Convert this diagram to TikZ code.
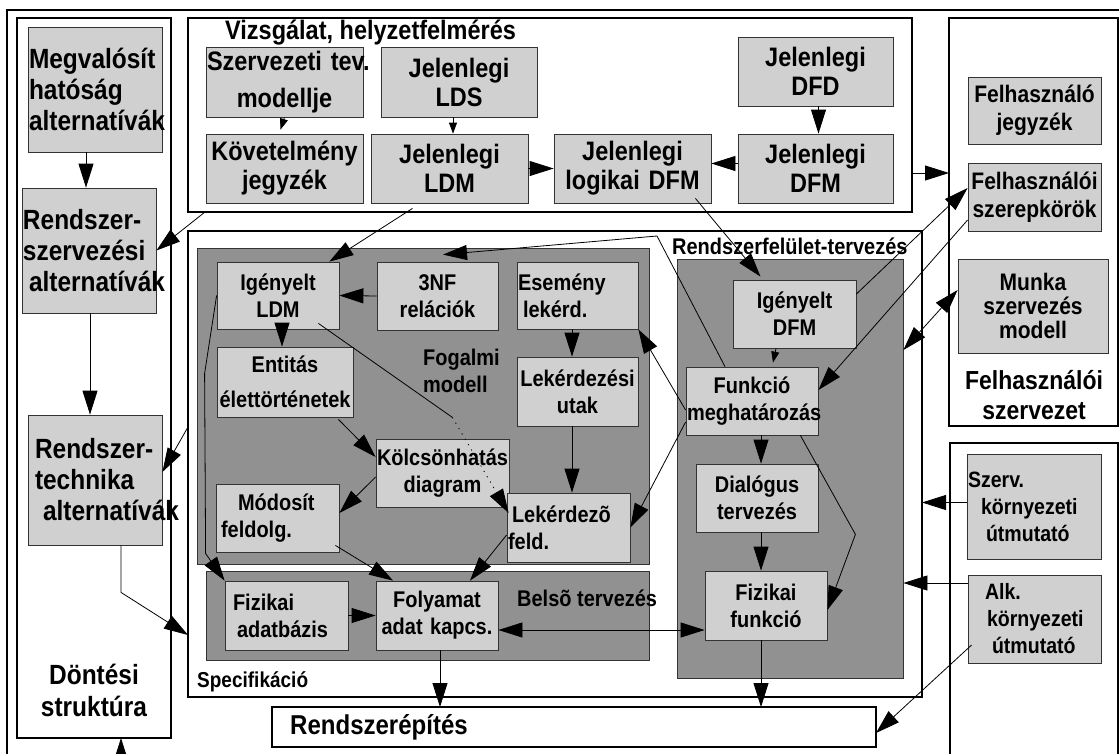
\documentclass[tikz,border=0pt]{standalone}
\usepackage{fontspec}
\setmainfont{Liberation Sans}
\newfontfamily\keskeny[FakeStretch=0.88]{Liberation Sans}
\usetikzlibrary{arrows.meta}
\definecolor{vilagos}{gray}{0.815}
\definecolor{sotetszurke}{gray}{0.57}
\definecolor{szegely}{gray}{0.2}
\hyphenpenalty=10000
\exhyphenpenalty=10000

\begin{document}
\begin{tikzpicture}[x=1pt,y=-1pt,
					keret/.style={draw,line width=2.5pt,inner sep=0pt,outer sep=0pt},
					sotet/.style={draw=szegely,fill=sotetszurke,line width=0.8pt,inner sep=0pt},
					doboz/.style={draw=szegely,fill=vilagos,line width=0.8pt,inner sep=1pt,align=center,kozep},
					meret/.style 2 args={text width=#1,minimum height=#2},
					nagy/.style={font=\keskeny\bfseries\fontsize{26.7}{29}\selectfont},
					bal/.style={font=\keskeny\bfseries\fontsize{27.8}{31}\selectfont},
					kozep/.style={font=\keskeny\bfseries\fontsize{22.7}{27}\selectfont},
					jobb/.style={font=\keskeny\bfseries\fontsize{23.9}{28}\selectfont},
					kornyf/.style={font=\keskeny\bfseries\fontsize{22.2}{27}\selectfont},
					felirat/.style={anchor=west,inner sep=0pt,kozep},
					nyil/.style={line width=0.8pt,-{Triangle[length=24pt,width=15pt]}},
					kisnyil/.style={line width=0.8pt,-{Triangle[length=11pt,width=8pt]}},
					ketnyil/.style={line width=0.8pt,{Triangle[length=24pt,width=15pt]}-{Triangle[length=24pt,width=15pt]}},
					vonal/.style={line width=0.8pt}
					]
					\useasboundingbox (0,0) rectangle (1119,753);
					\draw[line width=2.5pt] (7,775) -- (7,10) -- (1130,10);
					\node[keret,minimum width=154pt,minimum height=720pt] (dontes) at (94,378) {};
					\node[keret,minimum width=724pt,minimum height=194pt] (vizsg) at (550,115) {};
					\node[keret,minimum width=169pt,minimum height=408pt] (felhsz) at (1033.5,222) {};
					\node[keret,minimum width=734pt,minimum height=466pt] (spec) at (555,464) {};
					\node[keret,minimum width=168pt,minimum height=340pt] (korny) at (1034,613) {};
					\node[keret,line width=2pt,minimum width=604pt,minimum height=40pt] (epites) at (574,727) {};
					
					\node[sotet,minimum width=452pt,minimum height=316pt] (fogalmi) at (423,406) {};
					\node[sotet,minimum width=443pt,minimum height=89pt] (belso) at (427.5,615.5) {};
					\node[sotet,minimum width=226pt,minimum height=419pt] (rfelulet) at (790,468.5) {};
					
					\node[doboz,bal,align=left,meret={132pt}{125pt}] (megval) at (95,89.5) {Megvalósít\\hatóság\\alternatívák};
					\node[doboz,bal,align=left,meret={132pt}{125pt}] (rszerv) at (89,250.5) {Rendszer-\\szervezési\\\hspace*{6pt}alternatívák};
					\node[doboz,bal,align=left,meret={132pt}{130pt}] (rtech) at (95,480) {\hspace*{6pt}Rendszer-\\\hspace*{6pt}technika\\\hspace*{14pt}alternatívák};
					
					\node[doboz,nagy,meret={155pt}{70pt}] (szervtev) at (284.5,82) {Szervezeti~tev.\\[8pt]modellje};
					\node[doboz,nagy,meret={154pt}{70pt}] (lds) at (459,82) {Jelenlegi\\LDS};
					\node[doboz,nagy,meret={153pt}{69pt}] (dfd) at (815.5,71.5) {Jelenlegi\\DFD};
					\node[doboz,nagy,meret={155pt}{69pt}] (kovet) at (284.5,168.5) {Követelmény\\jegyzék};
					\node[doboz,nagy,meret={155pt}{69pt}] (ldm) at (449.5,168.5) {Jelenlegi\\LDM};
					\node[doboz,nagy,meret={155pt}{69pt}] (logdfm) at (632.5,168.5) {Jelenlegi\\logikai~DFM};
					\node[doboz,nagy,meret={153pt}{69pt}] (jdfm) at (815.5,168.5) {Jelenlegi\\DFM};
					
					\node[doboz,jobb,meret={131pt}{67pt}] (fjegyz) at (1034.5,110.5) {Felhasználó\\jegyzék};
					\node[doboz,jobb,meret={131pt}{68pt}] (fszerep) at (1034.5,197) {Felhasználói\\szerepkörök};
					\node[doboz,font=\keskeny\bfseries\fontsize{23.9}{24}\selectfont,meret={148pt}{94pt}] (munka) at (1033,306) {Munka\\szervezés\\modell};
					\node[doboz,kornyf,align=left,meret={132pt}{105pt}] (szervk) at (1034,506.5) {Szerv.\\\hspace*{13pt}környezeti\\\hspace*{18pt}útmutató};
					\node[doboz,kornyf,align=left,meret={131pt}{88pt}] (alkk) at (1034.5,619) {\hspace*{16pt}Alk.\\\hspace*{18pt}környezeti\\\hspace*{23pt}útmutató};
					
					\node[doboz,meret={120pt}{67pt}] (iLDM) at (278,295.5) {Igényelt\\LDM};
					\node[doboz,meret={119pt}{68pt}] (nf3) at (437.5,296) {3NF\\relációk};
					\node[doboz,align=left,meret={119pt}{67pt}] (esemeny) at (577.5,295.5) {Esemény\\\hspace*{5pt}lekérd.};
					\node[doboz,meret={134pt}{70pt}] (entitas) at (285,382) {Entitás\\[8pt]élettörténetek};
					\node[doboz,meret={119pt}{69pt}] (lutak) at (577.5,391.5) {Lekérdezési\\utak};
					\node[doboz,meret={131pt}{68pt}] (kolcson) at (442.5,473) {Kölcsönhatás\\diagram};
					\node[doboz,align=left,meret={121pt}{68pt}] (modosit) at (277.5,518) {\hspace*{21pt}Módosít\\\hspace*{4pt}feldolg.};
					\node[doboz,align=left,meret={121pt}{69pt}] (lfeld) at (568.5,527.5) {\hspace*{4pt}Lekérdezõ\\feld.};
					\node[doboz,align=left,meret={121pt}{69pt}] (fizadat) at (286.5,615.5) {\hspace*{7pt}Fizikai\\\hspace*{11pt}adatbázis};
					\node[doboz,meret={120pt}{69pt}] (folyamat) at (437,615.5) {Folyamat\\adat~kapcs.};
					\node[doboz,meret={121pt}{68pt}] (iDFM) at (794.5,314) {Igényelt\\DFM};
					\node[doboz,meret={130pt}{68pt}] (funkcio) at (752,401) {Funkció\\meghatározás};
					\node[doboz,meret={120pt}{68pt}] (dialogus) at (757,498) {Dialógus\\tervezés};
					\node[doboz,meret={120pt}{69pt}] (fizfunk) at (766,605.5) {Fizikai\\funkció};
					
					\node[felirat,nagy,anchor=base west] (vcim) at (225,39) {Vizsgálat, helyzetfelmérés};
					\node[felirat] (rfcim) at (672,246) {Rendszerfelület-tervezés};
					\node[felirat,font=\keskeny\bfseries\fontsize{21.6}{24}\selectfont] (scim) at (197,682) {Specifikáció};
					\node[felirat] (bcim) at (517,598) {Belsõ tervezés};
					\node[felirat,align=left] (fcim) at (423,371) {Fogalmi\\modell};
					\node[align=center,font=\keskeny\bfseries\fontsize{27.8}{32}\selectfont] (dcim) at (94,690) {Döntési\\struktúra};
					\node[align=center,font=\keskeny\bfseries\fontsize{26.1}{30}\selectfont] (fszcim) at (1034,395) {Felhasználói\\szervezet};
					\node[felirat,font=\keskeny\bfseries\fontsize{27.3}{30}\selectfont] (ecim) at (290,727) {Rendszerépítés};
					
					\coordinate (lent) at (121,775);
					\draw[nyil] (lent) -- ([xshift=27pt]dontes.south);
					\draw[nyil] ([xshift=-9pt]megval.south) -- ([xshift=-3pt]rszerv.north);
					\draw[nyil] ([xshift=1pt]rszerv.south) -- ([xshift=-5pt]rtech.north);
					\draw[nyil] ([xshift=26pt]rtech.south) -- ++(0,47) -- ([yshift=-171pt]spec.west);
					\draw[nyil] ([xshift=17pt]vizsg.south west) -- (rszerv.east);
					\draw[nyil] ([yshift=37pt]spec.west) -- ([yshift=8pt]rtech.east);
					
					\draw[kisnyil] (szervtev.south) -- ([xshift=-4pt,yshift=4pt]kovet.north);
					\draw[kisnyil] ([xshift=-6pt]lds.south) -- ([xshift=-6pt]lds.south |- ldm.north);
					\draw[nyil] ([xshift=3pt]dfd.south) -- ([xshift=3pt]jdfm.north);
					\draw[nyil] (ldm.east) -- (logdfm.west);
					\draw[nyil] ([yshift=5pt]jdfm.west) -- ([yshift=5pt]logdfm.east);
					\draw[nyil] ([yshift=-58pt]vizsg.east) -- ([yshift=49pt]felhsz.west);
					\draw[nyil] ([xshift=-37pt,yshift=-5pt]ldm.south) -- ([xshift=-10pt]iLDM.north east);
					\draw[nyil] ([xshift=-16pt,yshift=5pt]logdfm.south east) -- ([xshift=-34pt,yshift=3pt]iDFM.north);
					
					\draw[nyil] ([yshift=20pt]iDFM.east) -- ([yshift=9pt]fszerep.west);
					\draw[nyil] ([yshift=-23pt]fszerep.west) -- ([yshift=11pt]funkcio.east);
					\draw[ketnyil] ([yshift=16pt]munka.west) -- ([yshift=118.5pt]rfelulet.east);
					\draw[kisnyil] ([xshift=-18.5pt]iDFM.south) -- ([xshift=21pt,yshift=4pt]funkcio.north);
					\draw[nyil] ([xshift=-27pt]funkcio.north) -- ([xshift=102pt,yshift=-5pt]spec.north) -- ([xshift=20pt,yshift=-7pt]fogalmi.north);
					\draw[nyil] ([xshift=4pt]dialogus.north |- funkcio.south) -- ([xshift=4pt]dialogus.north);
					\draw[nyil] ([xshift=4pt]dialogus.south) -- ([xshift=4pt]dialogus.south |- fizfunk.north);
					\draw[nyil] ([xshift=-5pt]fizfunk.south) -- ([xshift=-5pt]fizfunk.south |- epites.north);
					\draw[nyil] ([xshift=-18pt]funkcio.south east) -- ++(55,99) -- ([yshift=-4.5pt]fizfunk.east);
					\draw[nyil] ([yshift=-9pt]funkcio.west) -- (esemeny.south east);
					\draw[nyil] ([yshift=-21pt]funkcio.west) -- (lfeld.east);
					
					\draw[nyil] ([xshift=-5.5pt]esemeny.south) -- ([xshift=-5.5pt]lutak.north);
					\draw[nyil] ([xshift=-5.5pt]lutak.south) -- ([xshift=-5.5pt]lutak.south |- lfeld.north);
					\draw[nyil] (nf3.west) -- (iLDM.east);
					\draw[nyil] ([xshift=4pt]iLDM.south) -- ([xshift=4pt]iLDM.south |- entitas.north);
					\draw[nyil] ([xshift=-15pt,yshift=-2pt]entitas.south east) -- ([yshift=16pt]kolcson.west);
					\draw[nyil] ([yshift=-4pt]kolcson.west) -- ([yshift=5pt]modosit.east);
					\draw[vonal] ([xshift=-21pt,yshift=6pt]iLDM.south east) -- ++(134,94) coordinate (pont);
					\draw[nyil,dash pattern=on 1.2pt off 5pt] (pont) -- ([xshift=2pt,yshift=14.5pt]lfeld.west);
					\draw[nyil] ([xshift=-4pt,yshift=7pt]modosit.south east) -- ([xshift=-44pt]folyamat.north);
					\draw[nyil] ([yshift=-7.5pt]lfeld.west) -- ([xshift=33pt]folyamat.north);
					\draw[nyil] (iLDM.west) -- ++(-12,78) -- ++(1,180) -- (fizadat.north west);
					\draw[nyil] (fizadat.east) -- (folyamat.west);
					\draw[ketnyil] ([yshift=-14.5pt]folyamat.east) -- ([yshift=-24.5pt]fizfunk.west);
					\draw[nyil] ([xshift=3pt]folyamat.south) -- ([xshift=3pt]folyamat.south |- epites.north);
					
					\draw[nyil] ([yshift=4pt]szervk.west) -- ([yshift=4pt]szervk.west -| spec.east);
					\draw[nyil] ([yshift=36pt]alkk.west) -- ([yshift=36pt]alkk.west -| rfelulet.east);
					\draw[nyil] ([xshift=4pt,yshift=-26pt]alkk.west) -- ([yshift=-6pt]epites.east);
					\end{tikzpicture}
\end{document}
